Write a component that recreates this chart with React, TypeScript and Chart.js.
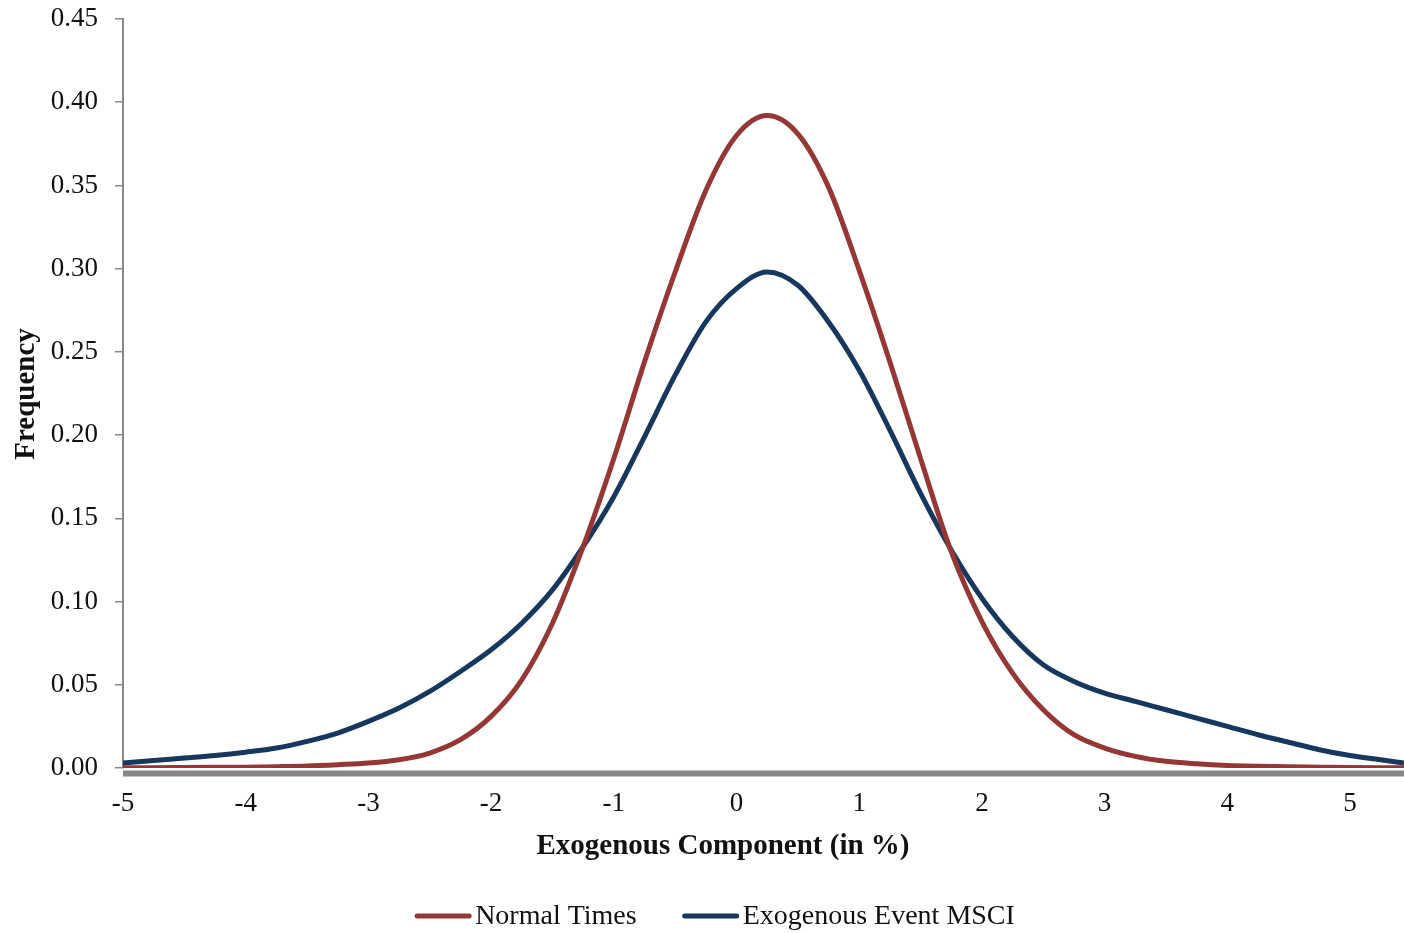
import React, { useEffect, useRef } from "react";
import { Chart, registerables } from "chart.js";

Chart.register(...registerables);

const xValues = [
  -5, -4.75, -4.5, -4.25, -4, -3.75, -3.5, -3.25, -3, -2.75, -2.5, -2.25, -2, -1.75, -1.5, -1.25,
  -1, -0.75, -0.5, -0.25, 0, 0.25, 0.5, 0.75, 1, 1.25, 1.5, 1.75, 2, 2.25, 2.5, 2.75, 3, 3.25,
  3.5, 3.75, 4, 4.25, 4.5, 4.75, 5, 5.25, 5.44,
];

const normalTimes = [
  0.0002, 0.0002, 0.0003, 0.0004, 0.0005, 0.0008, 0.0012, 0.002, 0.003, 0.005, 0.009, 0.017,
  0.031, 0.053, 0.087, 0.133, 0.186, 0.244, 0.298, 0.347, 0.380, 0.392, 0.381, 0.349, 0.299,
  0.244, 0.186, 0.130, 0.088, 0.057, 0.035, 0.020, 0.012, 0.007, 0.004, 0.0025, 0.0015,
  0.001, 0.0007, 0.0005, 0.0003, 0.0002, 0.0002,
];

const exogenousEvent = [
  0.003, 0.0045, 0.006, 0.0075, 0.0095, 0.012, 0.016, 0.021, 0.028, 0.036, 0.046, 0.058, 0.071,
  0.087, 0.107, 0.133, 0.163, 0.199, 0.236, 0.268, 0.288, 0.298, 0.290, 0.268, 0.239, 0.203,
  0.165, 0.131, 0.102, 0.079, 0.062, 0.052, 0.045, 0.040, 0.035, 0.030, 0.025, 0.020, 0.0155,
  0.011, 0.0075, 0.005, 0.003,
];

const xTicks = [-5, -4, -3, -2, -1, 0, 1, 2, 3, 4, 5];

const seriesNames = ["Normal Times", "Exogenous Event MSCI"];
const seriesColors = ["#953735", "#17375E"];
const xTitle = "Exogenous Component (in %)";
const yTitle = "Frequency";

const FONT = "'Liberation Serif', 'DejaVu Serif', serif";

const customDraw = {
  id: "customDraw",
  beforeDatasetsDraw(chart: any) {
    const { ctx, chartArea } = chart;
    ctx.save();
    ctx.fillStyle = "#878787";
    ctx.fillRect(chartArea.left, chartArea.bottom + 2.5, chartArea.right - chartArea.left, 6);
    ctx.restore();
  },
  afterDraw(chart: any) {
    const { ctx } = chart;
    ctx.save();
    ctx.fillStyle = "#111";
    // x title
    ctx.font = `bold 29px ${FONT}`;
    ctx.textAlign = "center";
    ctx.textBaseline = "middle";
    ctx.fillText(xTitle, 723, 847);
    // y title
    ctx.save();
    ctx.translate(27, 394);
    ctx.rotate(-Math.PI / 2);
    ctx.fillText(yTitle, 0, 0);
    ctx.restore();
    // legend
    ctx.font = `28px ${FONT}`;
    const lineLen = 56;
    const gapLT = 4;
    const gapItems = 46;
    const w1 = ctx.measureText(seriesNames[0]).width;
    const w2 = ctx.measureText(seriesNames[1]).width;
    const total = lineLen + gapLT + w1 + gapItems + lineLen + gapLT + w2;
    let x = 715 - total / 2;
    const y = 916;
    ctx.textAlign = "left";
    ctx.lineCap = "round";
    ctx.lineWidth = 5;
    for (let i = 0; i < 2; i++) {
      ctx.strokeStyle = seriesColors[i];
      ctx.beginPath();
      ctx.moveTo(x + 2, y);
      ctx.lineTo(x + lineLen - 2, y);
      ctx.stroke();
      x += lineLen + gapLT;
      ctx.fillStyle = "#111";
      ctx.fillText(seriesNames[i], x, y + 1);
      x += (i === 0 ? w1 : w2) + gapItems;
    }
    ctx.restore();
  },
};

export default function App() {
  const canvasRef = useRef<HTMLCanvasElement | null>(null);

  useEffect(() => {
    if (!canvasRef.current) return;
    const makePts = (ys: number[]) => xValues.map((x, i) => ({ x, y: ys[i] }));
    const chart = new Chart(canvasRef.current, {
      type: "line",
      data: {
        datasets: [
          {
            label: seriesNames[0],
            data: makePts(normalTimes),
            borderColor: seriesColors[0],
            backgroundColor: seriesColors[0],
            borderWidth: 5,
            pointRadius: 0,
            cubicInterpolationMode: "monotone",
            fill: false,
          },
          {
            label: seriesNames[1],
            data: makePts(exogenousEvent),
            borderColor: seriesColors[1],
            backgroundColor: seriesColors[1],
            borderWidth: 5,
            pointRadius: 0,
            cubicInterpolationMode: "monotone",
            fill: false,
          },
        ],
      },
      options: {
        responsive: false,
        animation: false,
        layout: { padding: { top: 19, right: 0, left: 0, bottom: 0 } },
        plugins: {
          legend: { display: false },
          tooltip: { enabled: false },
        },
        scales: {
          x: {
            type: "linear",
            min: -5,
            max: 5.44,
            afterBuildTicks: (scale: any) => {
              scale.ticks = xTicks.map((v) => ({ value: v }));
            },
            afterFit: (scale: any) => {
              scale.height = 165;
              scale.paddingLeft = 0;
              scale.paddingRight = 0;
            },
            grid: { display: false, drawTicks: false },
            border: { display: false },
            ticks: {
              padding: 20,
              color: "#111",
              font: { family: FONT, size: 27 },
              maxRotation: 0,
              callback: (v: any) => String(v),
            },
          },
          y: {
            min: 0,
            max: 0.45,
            afterFit: (scale: any) => {
              scale.width = 123;
              scale.paddingTop = 0;
              scale.paddingBottom = 0;
            },
            grid: {
              drawOnChartArea: false,
              drawTicks: true,
              tickLength: 8,
              color: "#888",
              lineWidth: 1.5,
            },
            border: { display: true, color: "#888", width: 2 },
            ticks: {
              stepSize: 0.05,
              padding: 17,
              color: "#111",
              font: { family: FONT, size: 27 },
              callback: (v: any) => Number(v).toFixed(2),
            },
          },
        },
      },
      plugins: [customDraw],
    });
    return () => chart.destroy();
  }, []);

  return (
    <div style={{ position: "absolute", left: 0, top: 0, width: 1404, height: 933, background: "#fff" }}>
      <canvas ref={canvasRef} width={1404} height={933} style={{ display: "block" }} />
    </div>
  );
}
